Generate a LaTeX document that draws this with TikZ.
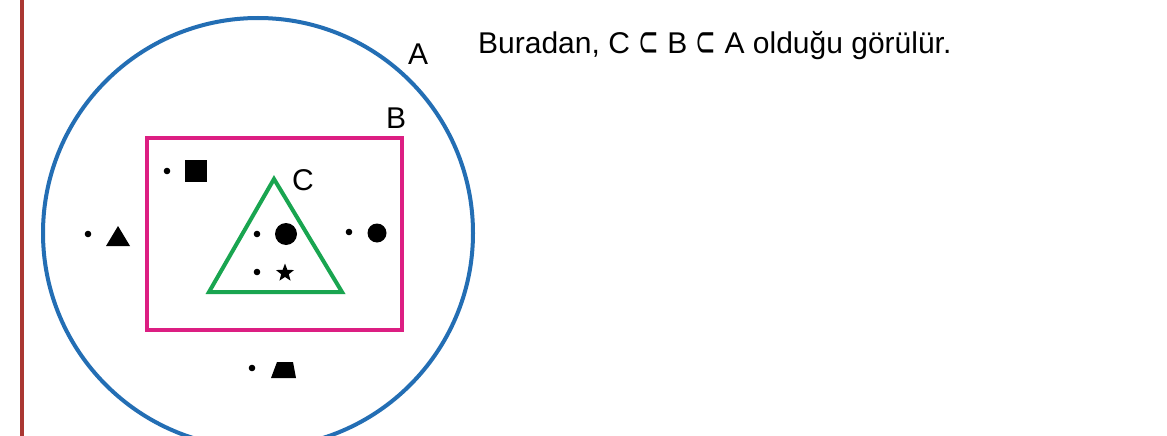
\documentclass[tikz,border=0pt]{standalone}
\usepackage{fontspec}
\usepackage{graphicx}
\setmainfont{Liberation Sans}
\newfontfamily\symfont{DejaVu Sans}
\usetikzlibrary{shapes.geometric}
\definecolor{redline}{RGB}{170,55,50}
\definecolor{setA}{RGB}{35,110,180}
\definecolor{setB}{RGB}{220,30,130}
\definecolor{setC}{RGB}{25,165,80}
\newcommand{\subsetsym}{\raisebox{-3pt}{\scalebox{0.85}[1.5]{\symfont\fontsize{29}{34}\selectfont ⊂}}}
\tikzset{
  lbl/.style={font=\fontsize{30}{34}\selectfont, inner sep=0pt, anchor=base},
  pt/.style={fill=black},
}
\begin{document}
\begin{tikzpicture}[x=1pt,y=-1pt]
\useasboundingbox (0,0) rectangle (1167,436);
\fill[white] (0,0) rectangle (1167,436);
% left red line
\draw[redline, line width=3.5pt] (22,0) -- (22,436);
% set A
\draw[setA, line width=4pt] (258,233) circle[radius=215];
% set B
\draw[setB, line width=4pt] (147,138) rectangle (402,330);
% set C
\draw[setC, line width=4pt, line join=miter] (274,179) -- (342,292) -- (209,292) -- cycle;
% labels
\node[lbl] (la) at (418,65) {A};
\node[lbl] (lb) at (396,128) {B};
\node[lbl] (lc) at (303,190) {C};
% elements
\fill[pt] (167,171) circle[radius=3.3];
\fill (185,160) rectangle (207,182);
\fill[pt] (88,234) circle[radius=3.3];
\fill (118,226) -- (130,246) -- (106,246) -- cycle;
\fill[pt] (257,234) circle[radius=3.3];
\fill (286,234) circle[radius=11];
\fill[pt] (257,272) circle[radius=3.3];
\node[star, star points=5, star point ratio=2.4, fill=black, minimum size=19pt, inner sep=0pt] (st) at (285,273) {};
\fill[pt] (349,232) circle[radius=3.3];
\fill (377,233) circle[radius=9.5];
\fill[pt] (252,368) circle[radius=3.3];
\fill (277,362) -- (293,362) -- (296,378) -- (271,378) -- cycle;
% text
\node[lbl, anchor=base west] (txt) at (478,53) {Buradan, C \subsetsym{} B \subsetsym{} A olduğu görülür.};
\end{tikzpicture}
\end{document}
